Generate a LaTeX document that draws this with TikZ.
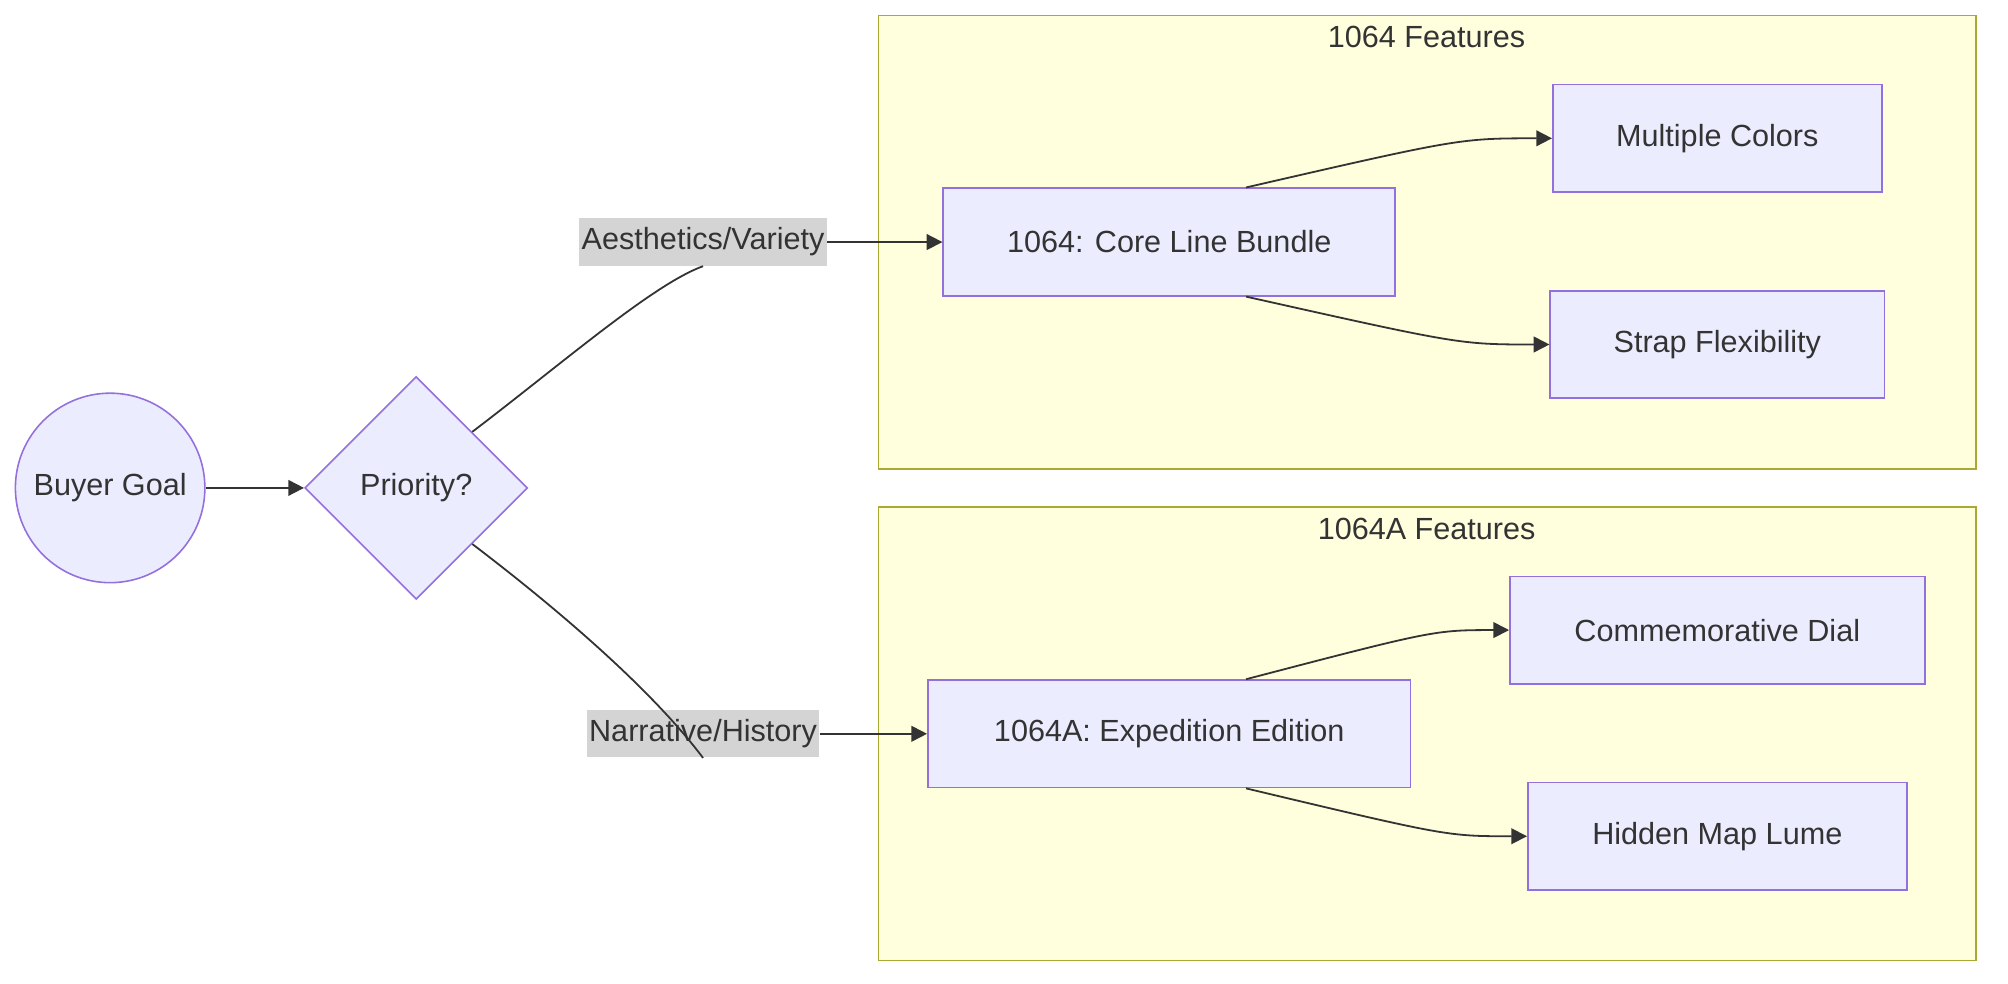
\documentclass[tikz,border=0pt]{standalone}
\usepackage{fontspec}
\setmainfont{Liberation Sans}
\usetikzlibrary{shapes.geometric,arrows.meta}
\definecolor{nodefill}{HTML}{ECECFF}
\definecolor{nodeline}{HTML}{9370DB}
\definecolor{clusterfill}{HTML}{FFFFDE}
\definecolor{clusterline}{HTML}{AAAA33}
\definecolor{txt}{HTML}{333333}
\definecolor{lblfill}{HTML}{D4D4D4}
\begin{document}
\begin{tikzpicture}[x=0.02cm,y=-0.02cm,
	font=\fontsize{13.6}{16}\selectfont,text=txt,
	box/.style={draw=nodeline,fill=nodefill,line width=0.7pt,minimum height=1.68cm},
	cluster/.style={draw=clusterline,fill=clusterfill,line width=0.7pt},
	lbl/.style={fill=lblfill,inner sep=1pt,minimum height=0.74cm},
	edge/.style={draw=txt,line width=0.8pt},
	arr/.style={edge,-{Triangle[length=7pt,width=7pt]}}]
	\useasboundingbox (0,0) rectangle (1568,768);
	%Clusters
	\draw[cluster] (686,12) rectangle (1543,366);
	\node (title1) at (1114,29) {1064 Features};
	\draw[cluster] (686,396) rectangle (1543,750);
	\node (title2) at (1114,413) {1064A Features};
	%Left nodes
	\node[circle,draw=nodeline,fill=nodefill,line width=0.7pt,minimum size=2.96cm,inner sep=0pt] (goal) at (86,381) {Buyer Goal};
	\node[diamond,draw=nodeline,fill=nodefill,line width=0.7pt,minimum size=3.48cm,inner sep=0pt] (prio) at (325,381) {Priority?};
	%Boxes
	\node[box,minimum width=7.06cm] (core) at (913,189) {1064: Core Line Bundle};
	\node[box,minimum width=5.14cm] (colors) at (1341,108) {Multiple Colors};
	\node[box,minimum width=5.22cm] (strap) at (1341,269) {Strap Flexibility};
	\node[box,minimum width=7.54cm] (exped) at (913,573) {1064A: Expedition Edition};
	\node[box,minimum width=6.48cm] (dial) at (1341,492) {Commemorative Dial};
	\node[box,minimum width=5.92cm] (lume) at (1341,653) {Hidden Map Lume};
	%Edge labels
	\node[lbl] (aes) at (549,189) {Aesthetics/Variety};
	\node[lbl] (nar) at (549,573) {Narrative/History};
	%Connectors
	\draw[arr] (goal) -- (prio);
	\draw[edge] (prio.north east) .. controls (440,283) and (510,222) .. (aes.south);
	\draw[arr] (aes.east) .. controls (680,189) .. (core.west);
	\draw[edge] (prio.south east) .. controls (440,479) and (510,540) .. (nar.south);
	\draw[arr] (nar.east) .. controls (680,573) .. (exped.west);
	\draw[arr] ([xshift=1.2cm]core.north) .. controls (1140,108) .. (colors.west);
	\draw[arr] ([xshift=1.2cm]core.south) .. controls (1140,269) .. (strap.west);
	\draw[arr] ([xshift=1.2cm]exped.north) .. controls (1120,492) .. (dial.west);
	\draw[arr] ([xshift=1.2cm]exped.south) .. controls (1130,653) .. (lume.west);
\end{tikzpicture}
\end{document}
